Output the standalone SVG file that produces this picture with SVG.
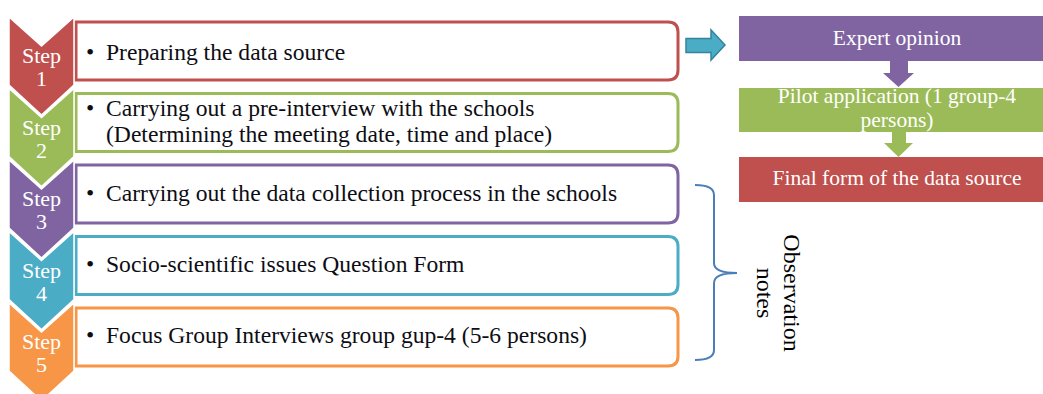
<svg xmlns="http://www.w3.org/2000/svg" width="1043" height="394" viewBox="0 0 1043 394">
<style>
.box{fill:#fff;stroke-width:3}
.chev{stroke:#fff;stroke-width:1.5}
.step{font-family:"Liberation Serif",serif;font-size:22px;fill:#fff;text-anchor:middle}
.txt{font-family:"Liberation Serif",serif;font-size:23.6px;fill:#0d0d14}
.rt{font-family:"Liberation Serif",serif;font-size:21.5px;fill:#fff;text-anchor:middle}
.obs{font-family:"Liberation Serif",serif;font-size:24px;fill:#000;text-anchor:middle}
</style>
<rect width="1043" height="394" fill="#fff"/>

<g id="step1">
<path class="box" stroke="#c0504d" d="M76,22 H668 Q678,22 678,32 V70 Q678,80 668,80 H76 Z"/>
<path class="chev" fill="#c0504d" d="M9,17 L41.5,46 L74,17 L74,85 L41.5,115 L9,85 Z"/>
<text class="step" x="41.5" y="63">Step</text>
<text class="step" x="41.5" y="86">1</text>
<text class="txt" x="86" y="60">•</text>
<text class="txt" x="106" y="60">Preparing the data source</text>
</g>

<g id="step2">
<path class="box" stroke="#9bbb59" d="M76,93.5 H668 Q678,93.5 678,103.5 V141.5 Q678,151.5 668,151.5 H76 Z"/>
<path class="chev" fill="#9bbb59" d="M9,88.5 L41.5,117.5 L74,88.5 L74,156.5 L41.5,186.5 L9,156.5 Z"/>
<text class="step" x="41.5" y="134.5">Step</text>
<text class="step" x="41.5" y="157.5">2</text>
<text class="txt" x="86" y="115.5">•</text>
<text class="txt" x="106" y="115.5">Carrying out a pre-interview with the schools</text>
<text class="txt" x="106" y="142">(Determining the meeting date, time and place)</text>
</g>

<g id="step3">
<path class="box" stroke="#8064a2" d="M76,165 H668 Q678,165 678,175 V213 Q678,223 668,223 H76 Z"/>
<path class="chev" fill="#8064a2" d="M9,160 L41.5,189 L74,160 L74,228 L41.5,258 L9,228 Z"/>
<text class="step" x="41.5" y="206">Step</text>
<text class="step" x="41.5" y="229">3</text>
<text class="txt" x="86" y="201">•</text>
<text class="txt" x="106" y="201">Carrying out the data collection process in the schools</text>
</g>

<g id="step4">
<path class="box" stroke="#4bacc6" d="M76,236.5 H668 Q678,236.5 678,246.5 V284.5 Q678,294.5 668,294.5 H76 Z"/>
<path class="chev" fill="#4bacc6" d="M9,231.5 L41.5,260.5 L74,231.5 L74,299.5 L41.5,329.5 L9,299.5 Z"/>
<text class="step" x="41.5" y="277.5">Step</text>
<text class="step" x="41.5" y="300.5">4</text>
<text class="txt" x="86" y="272">•</text>
<text class="txt" x="106" y="272">Socio-scientific issues Question Form</text>
</g>

<g id="step5">
<path class="box" stroke="#f79646" d="M76,308 H668 Q678,308 678,318 V356 Q678,366 668,366 H76 Z"/>
<path class="chev" fill="#f79646" d="M9,303 L41.5,332 L74,303 L74,371 L41.5,401 L9,371 Z"/>
<text class="step" x="41.5" y="349">Step</text>
<text class="step" x="41.5" y="372">5</text>
<text class="txt" x="86" y="343">•</text>
<text class="txt" x="106" y="343">Focus Group Interviews group gup-4 (5-6 persons)</text>
</g>

<g id="expert">
<rect x="739" y="16" width="304" height="45" fill="#8064a2"/>
<text class="rt" x="897" y="45">Expert opinion</text>
</g>

<g id="pilot">
<rect x="739" y="88" width="304" height="44" fill="#9bbb59"/>
<text class="rt" x="897" y="103">Pilot application (1 group-4</text>
<text class="rt" x="897" y="127">persons)</text>
</g>

<g id="final">
<rect x="739" y="157" width="304" height="45" fill="#c0504d"/>
<text class="rt" x="897" y="185">Final form of the data source</text>
</g>

<g id="observation">
<text class="obs" transform="translate(784,293) rotate(90)"><tspan x="0" y="0">Observation</tspan><tspan x="0" y="27">notes</tspan></text>
</g>

<g id="connectors">
<path d="M686,38.5 H711 V30 L725,45 L711,60 V52.5 H686 Z" fill="#4bacc6" stroke="#31859c" stroke-width="1.5"/>
<path d="M890,61 H908 V73 H914 L898.5,87 L883,73 H890 Z" fill="#8064a2"/>
<path d="M892,132 H906 V143 H913 L898.5,157 L884,143 H892 Z" fill="#9bbb59"/>
<path d="M695,185 Q714,185 714,195 V263 Q714,273 737,273 Q714,273 714,283 V350 Q714,360 695,360" fill="none" stroke="#4a7ebb" stroke-width="2"/>
</g>
</svg>
